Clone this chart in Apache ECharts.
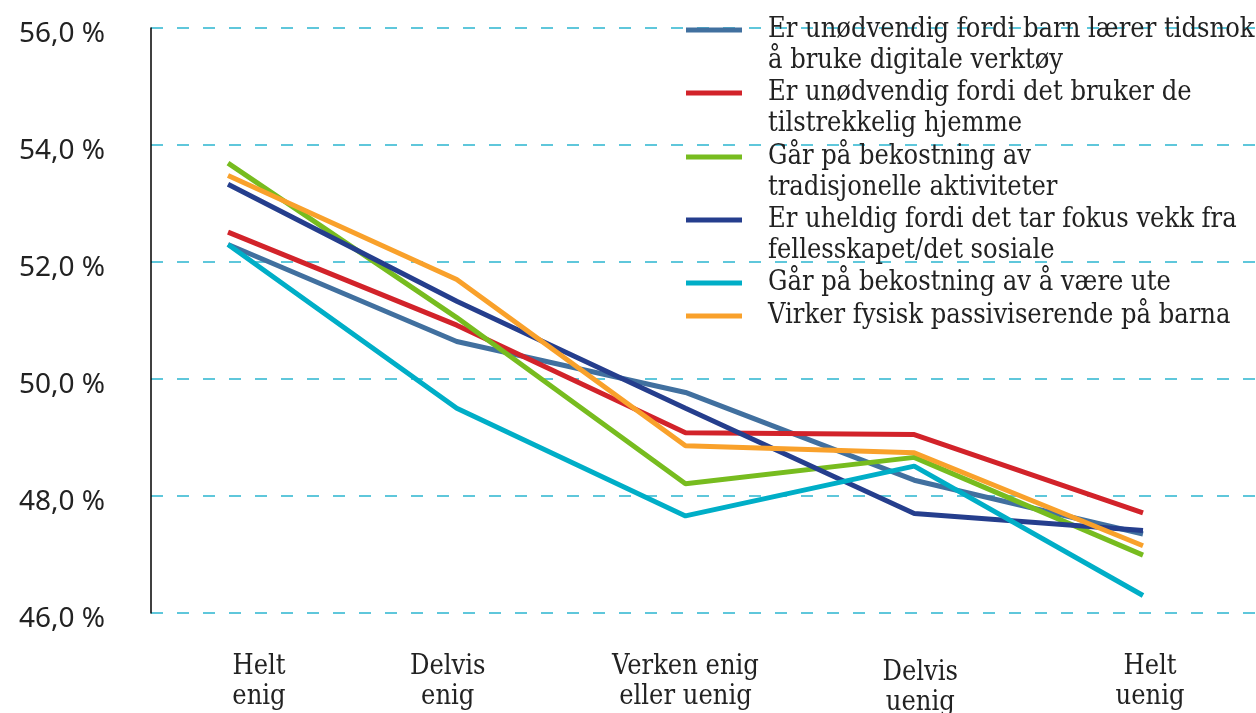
<!DOCTYPE html>
<html>
<head>
<meta charset="utf-8">
<script src="https://cdn.jsdelivr.net/npm/echarts@6/dist/echarts.min.js"></script>
<style>
  html, body { margin: 0; padding: 0; background: #fff; }
  #main { width: 1256px; height: 713px; }
</style>
</head>
<body>
<div id="main"></div>
<script>
  // kategorier (x-akse)
  var categories = ['Helt\nenig', 'Delvis\nenig', 'Verken enig\neller uenig', 'Delvis\nuenig', 'Helt\nuenig'];
  var yTicks = [46, 48, 50, 52, 54, 56];

  var names = [
    'Er unødvendig fordi barn lærer tidsnok\nå bruke digitale verktøy',
    'Er unødvendig fordi det bruker de\ntilstrekkelig hjemme',
    'Går på bekostning av\ntradisjonelle aktiviteter',
    'Er uheldig fordi det tar fokus vekk fra\nfellesskapet/det sosiale',
    'Går på bekostning av å være ute',
    'Virker fysisk passiviserende på barna'
  ];
  var barnLarer   = [52.30, 50.64, 49.77, 48.27, 47.35];
  var brukerHjemme = [52.51, 50.92, 49.08, 49.05, 47.71];
  var tradisjonelle = [53.69, 51.05, 48.21, 48.66, 46.99];
  var fellesskapet = [53.33, 51.33, 49.50, 47.70, 47.41];
  var vaereUte     = [52.30, 49.50, 47.66, 48.51, 46.30];
  var passiviserer = [53.48, 51.70, 48.86, 48.74, 47.15];

  var colors = ['#41709F', '#D2232A', '#77BC1F', '#253E8D', '#00AEC7', '#F9A12B'];
  var values = [barnLarer, brukerHjemme, tradisjonelle, fellesskapet, vaereUte, passiviserer];

  var serifFont = '"DejaVu Serif Condensed", "DejaVu Serif", serif';

  // justering av kategoritekstene
  var labelPad = [[0, 0, 0, 62], [0, 18, 0, 0], [0, 0, 0, 0], [6, 0, 0, 12], [0, 0, 0, 14]];

  var iconY = [30, 93, 157, 220, 283, 316];

  var myChart = echarts.init(document.getElementById('main'));

  var legends = names.map(function (n, i) {
    var twoLines = n.indexOf('\n') >= 0;
    return {
      left: 686,
      top: twoLines ? iconY[i] - 46.5 : iconY[i] - 15.5,
      padding: 0,
      orient: 'vertical',
      icon: 'rect',
      itemWidth: 56,
      itemHeight: 5,
      selectedMode: false,
      data: [n],
      // tom første linje så ikonet står ved første tekstlinje
      formatter: function (name) { return twoLines ? '\n' + name : name; },
      textStyle: {
        fontFamily: serifFont,
        fontSize: 27,
        color: '#222',
        lineHeight: 31,
        padding: [0, 0, 0, 21]
      }
    };
  });

  var option = {
    animation: false,
    legend: legends,
    grid: [
      { left: 151, right: 0, top: 28, bottom: 100, outerBoundsMode: 'none' },
      { left: 228, right: 113, top: 28, bottom: 100, outerBoundsMode: 'none' }
    ],
    xAxis: [
      { gridIndex: 0, type: 'value', show: false, min: 0, max: 1 },
      {
        gridIndex: 1,
        type: 'category',
        boundaryGap: false,
        data: categories.map(function (c, i) {
          return { value: c, textStyle: { padding: labelPad[i] } };
        }),
        axisLine: { show: false },
        axisTick: { show: false },
        splitLine: { show: false },
        axisLabel: {
          interval: 0,
          margin: 39,
          fontFamily: serifFont,
          fontSize: 27,
          lineHeight: 30,
          color: '#222'
        }
      }
    ],
    yAxis: [
      {
        gridIndex: 0,
        type: 'value',
        min: yTicks[0],
        max: yTicks[yTicks.length - 1],
        interval: 2,
        axisLine: { show: true, lineStyle: { color: '#000', width: 1.5 } },
        axisTick: { show: false },
        axisLabel: {
          margin: 46,
          fontFamily: '"Noto Sans", sans-serif',
          fontSize: 28,
          color: '#222',
          verticalAlign: 'top',
          lineHeight: 12,
          formatter: function (v) { return v.toFixed(1).replace('.', ',') + ' %'; }
        },
        splitLine: { show: true, lineStyle: { color: '#2BB5D0', width: 1.5, type: [12, 14] } }
      },
      {
        gridIndex: 1,
        type: 'value',
        min: yTicks[0],
        max: yTicks[yTicks.length - 1],
        show: false,
        splitLine: { show: false }
      }
    ],
    series: names.map(function (n, i) {
      return {
        name: n,
        type: 'line',
        xAxisIndex: 1,
        yAxisIndex: 1,
        data: values[i],
        symbol: 'none',
        color: colors[i],
        lineStyle: { width: 5, color: colors[i] }
      };
    })
  };

  myChart.setOption(option);
</script>
</body>
</html>
